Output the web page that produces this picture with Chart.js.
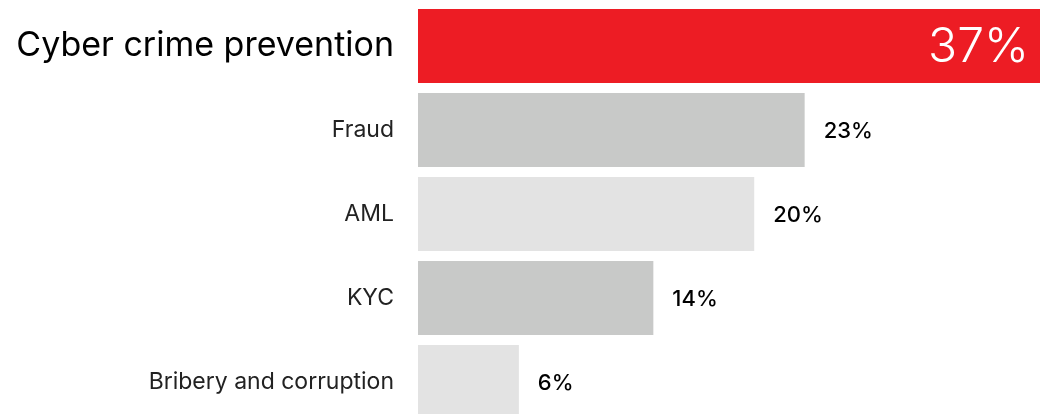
<!DOCTYPE html>
<html>
<head>
<meta charset="utf-8">
<script src="https://cdn.jsdelivr.net/npm/chart.js@4"></script>
<style>
  html, body { margin:0; padding:0; background:#fff; overflow:hidden; }
  #wrap { width:1040px; height:424px; position:relative; }
</style>
</head>
<body>
<div id="wrap"><canvas id="chart"></canvas></div>
<script>
// categories and values
const categories = ["Cyber crime prevention","Fraud","AML","KYC","Bribery and corruption"];
const shares = [37, 23, 20, 14, 6];
const barColors = ["#ED1C24","#C8C9C8","#E3E3E3","#C8C9C8","#E3E3E3"];

const FONT = "Inter, 'Noto Sans', sans-serif";

// draw the percent labels next to / inside the bars
const valueLabels = {
  id: "valueLabels",
  afterDatasetsDraw(chart){
    const ctx = chart.ctx;
    const meta = chart.getDatasetMeta(0);
    ctx.save();
    ctx.textBaseline = "middle";
    meta.data.forEach((bar, i) => {
      const txt = shares[i] + "%";
      if(i===0){
        ctx.font = "300 48px " + FONT;
        ctx.fillStyle = "#fff";
        ctx.textAlign = "right";
        ctx.fillText(txt, bar.x - 11, bar.y + 2);
      } else {
        ctx.font = "500 22px " + FONT;
        ctx.fillStyle = "#000";
        ctx.textAlign = "left";
        ctx.fillText(txt, bar.x + 19, bar.y + 1);
      }
    });
    ctx.restore();
  }
};

new Chart(document.getElementById("chart"), {
  type: "bar",
  data: {
    labels: categories,
    datasets: [{
      data: shares,
      backgroundColor: barColors,
      borderWidth: 0,
      barPercentage: 1,
      categoryPercentage: 74/84
    }]
  },
  options: {
    indexAxis: "y",
    responsive: true,
    maintainAspectRatio: false,
    animation: false,
    layout: { padding: { top: 4, right: 0, bottom: 0, left: 0 } },
    plugins: { legend: { display: false }, tooltip: { enabled: false } },
    scales: {
      x: { display: false, min: 0, max: 37 },
      y: {
        grid: { display: false, drawTicks: false },
        border: { display: false },
        afterFit: s => { s.width = 418; s.paddingTop = 0; s.paddingBottom = 0; },
        ticks: {
          padding: 24,
          color: c => c.index === 0 ? "#000" : "#222",
          font: c => c.index === 0
            ? { family: FONT, size: 34, weight: 400 }
            : { family: FONT, size: 23, weight: 400 }
        }
      }
    }
  },
  plugins: [valueLabels]
});
</script>
</body>
</html>
